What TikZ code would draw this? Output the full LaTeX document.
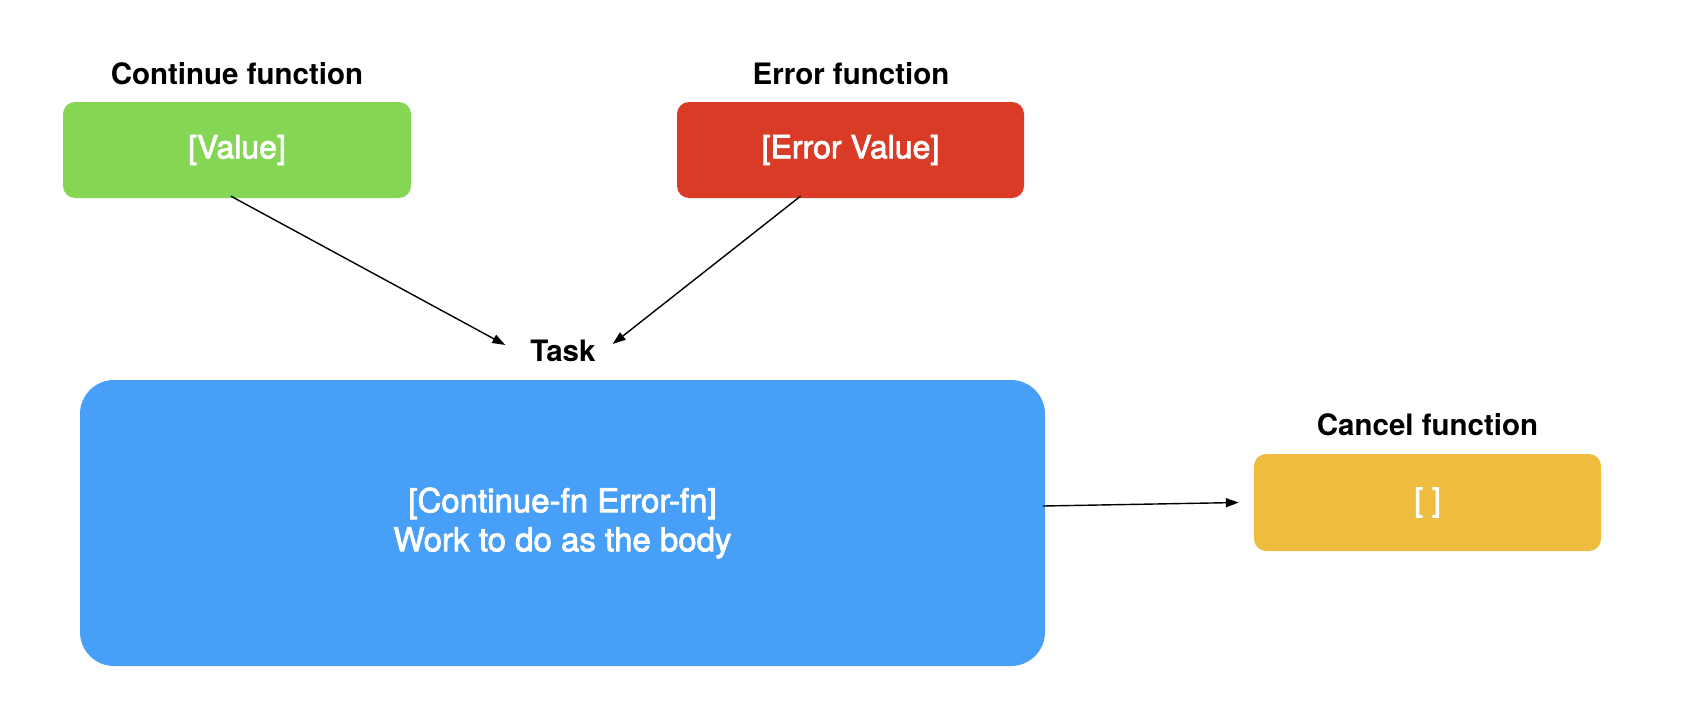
\documentclass[tikz,border=0pt]{standalone}
\usepackage{fontspec}
\setmainfont{TeX Gyre Heros}
\newfontfamily\medfont[FakeBold=2.5]{TeX Gyre Heros}
\usetikzlibrary{arrows.meta}
\definecolor{cgreen}{RGB}{132,214,84}
\definecolor{cred}{RGB}{218,59,38}
\definecolor{cblue}{RGB}{71,159,248}
\definecolor{cyellow}{RGB}{238,189,64}
\begin{document}
\begin{tikzpicture}[x=1pt,y=-1pt,
  box/.style={rounded corners=12pt, text=white, align=center, inner sep=0pt,
    font=\medfont\fontsize{32}{39}\selectfont},
  head/.style={inner sep=0pt, font=\fontsize{29.5}{36}\selectfont\bfseries},
  arr/.style={line width=1.4pt, -{Triangle[length=13pt,width=9pt]}}]
\useasboundingbox (0,0) rectangle (1684,720);
\node[box, fill=cgreen, minimum width=348pt, minimum height=96pt] (val) at (237,150) {[Value]};
\node[head] (valh) at (237,74) {Continue function};
\node[box, fill=cred, minimum width=347pt, minimum height=96pt] (err) at (850.5,150) {[Error Value]};
\node[head] (errh) at (851,74) {Error function};
\node[head] (task) at (563,351) {Task};
\node[box, rounded corners=34pt, fill=cblue, minimum width=965pt, minimum height=286pt,
  font=\medfont\fontsize{33}{39}\selectfont] (body) at (562.5,523)
  {[Continue-fn Error-fn]\\Work to do as the body};
\node[box, fill=cyellow, minimum width=347pt, minimum height=97pt] (can) at (1427.5,502.5) {[ ]};
\node[head] (canh) at (1427.5,425) {Cancel function};
\draw[arr] ([xshift=-6pt,yshift=2pt]val.south) -- ([shift={(-25,-6)}]task.west);
\draw[arr] ([xshift=-50pt,yshift=2pt]err.south) -- ([shift={(17,-7)}]task.east);
\draw[arr] ([shift={(-2,-17)}]body.east) -- ([shift={(-15,0)}]can.west);
\end{tikzpicture}
\end{document}
